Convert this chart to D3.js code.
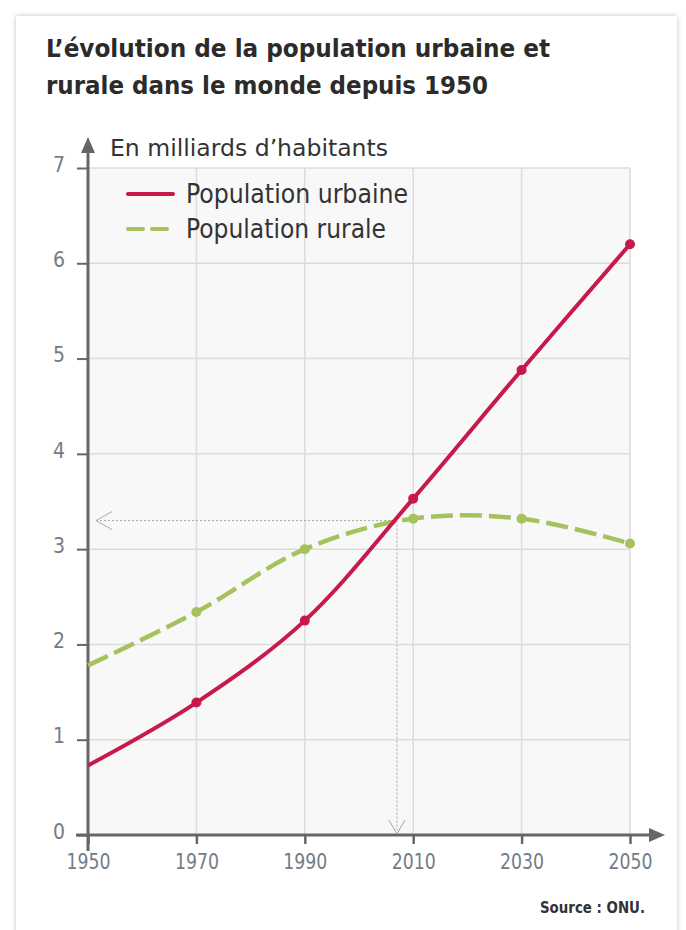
<!DOCTYPE html>
<html><head><meta charset="utf-8">
<script src="https://cdn.jsdelivr.net/npm/d3@7"></script>
<style>
html,body{margin:0;padding:0;background:#fff;}
svg{display:block;}
</style></head>
<body>
<svg id="c" width="686" height="930"></svg>
<script>
const years = [1950, 1970, 1990, 2010, 2030, 2050];
const urbaine = [0.73, 1.39, 2.25, 3.53, 4.88, 6.2];
const rurale = [1.78, 2.34, 3.0, 3.32, 3.32, 3.06];
const yTicks = [0, 1, 2, 3, 4, 5, 6, 7];
const xTicks = [1950, 1970, 1990, 2010, 2030, 2050];
const guide = {year: 2007, value: 3.3};

const svg = d3.select("#c");
const FONT = "'DejaVu Sans Condensed','DejaVu Sans',sans-serif";

// card
const defs = svg.append("defs");
const f = defs.append("filter").attr("id","sh").attr("x","-5%").attr("y","-5%").attr("width","110%").attr("height","110%");
f.append("feGaussianBlur").attr("in","SourceAlpha").attr("stdDeviation",2.5);
f.append("feComponentTransfer").append("feFuncA").attr("type","linear").attr("slope",0.25);
const m = f.append("feMerge"); m.append("feMergeNode"); m.append("feMergeNode").attr("in","SourceGraphic");
svg.append("rect").attr("x",16).attr("y",16).attr("width",661).attr("height",920).attr("fill","#fff").attr("filter","url(#sh)");

// title
svg.append("text").attr("x",46).attr("y",57).attr("font-family",FONT).attr("font-weight","bold")
  .attr("font-size",25).attr("fill","#2b2b2b").attr("textLength",504).attr("lengthAdjust","spacingAndGlyphs")
  .text("L’évolution de la population urbaine et");
svg.append("text").attr("x",46).attr("y",94).attr("font-family",FONT).attr("font-weight","bold")
  .attr("font-size",25).attr("fill","#2b2b2b").attr("textLength",442).attr("lengthAdjust","spacingAndGlyphs")
  .text("rurale dans le monde depuis 1950");

const x = d3.scaleLinear().domain([1950, 2050]).range([88, 630]);
const y = d3.scaleLinear().domain([0, 7]).range([835, 168]);

// plot bg
svg.append("rect").attr("x",x(1950)).attr("y",y(7)).attr("width",x(2050)-x(1950)).attr("height",y(0)-y(7)).attr("fill","#f8f8f8");

// grid
svg.append("g").selectAll("line").data(yTicks.slice(1)).join("line")
  .attr("x1",x(1950)).attr("x2",x(2050)).attr("y1",d=>y(d)).attr("y2",d=>y(d))
  .attr("stroke","#dcdcdc").attr("stroke-width",1.5);
svg.append("g").selectAll("line").data(xTicks.slice(1)).join("line")
  .attr("x1",d=>x(d)).attr("x2",d=>x(d)).attr("y1",y(7)).attr("y2",y(0))
  .attr("stroke","#dcdcdc").attr("stroke-width",1.5);

// axes with d3
const axisColor = "#666";
const gx = svg.append("g").attr("transform",`translate(0,${y(0)})`)
  .call(d3.axisBottom(x).tickValues(xTicks).tickFormat(d3.format("d")).tickSize(9).tickPadding(10));
gx.select(".domain").remove();
gx.selectAll("line").attr("stroke",axisColor).attr("stroke-width",2.5);
gx.selectAll("text").attr("font-family",FONT).attr("font-size",21).attr("fill","#727c88")
  .attr("textLength",44).attr("lengthAdjust","spacingAndGlyphs");

const gy = svg.append("g").attr("transform",`translate(${x(1950)},0)`)
  .call(d3.axisLeft(y).tickValues(yTicks).tickFormat(d3.format("d")).tickSize(11).tickPadding(12));
gy.select(".domain").remove();
gy.selectAll("line").attr("stroke",axisColor).attr("stroke-width",2);
gy.selectAll("text").attr("font-family",FONT).attr("font-size",21).attr("fill","#727c88").attr("dy","0.15em");

// axis lines and arrows
svg.append("line").attr("x1",x(1950)).attr("x2",x(1950)).attr("y1",y(0)+16).attr("y2",150)
  .attr("stroke",axisColor).attr("stroke-width",3);
svg.append("path").attr("d",`M${x(1950)},137 L${x(1950)-7},153 L${x(1950)+7},153 Z`).attr("fill",axisColor);
svg.append("line").attr("x1",x(1950)-12).attr("x2",652).attr("y1",y(0)).attr("y2",y(0))
  .attr("stroke",axisColor).attr("stroke-width",3);
svg.append("path").attr("d",`M665,${y(0)} L649,${y(0)-7} L649,${y(0)+7} Z`).attr("fill",axisColor);

// axis title
svg.append("text").attr("x",110).attr("y",156).attr("font-family",FONT).attr("font-size",23)
  .attr("fill","#333").attr("textLength",278).attr("lengthAdjust","spacingAndGlyphs").text("En milliards d’habitants");

// guides
const gcol="#a8a8a8";
svg.append("line").attr("x1",x(1950)+8).attr("x2",x(guide.year)).attr("y1",y(guide.value)).attr("y2",y(guide.value))
  .attr("stroke",gcol).attr("stroke-width",1).attr("stroke-dasharray","2,2");
svg.append("line").attr("x1",x(guide.year)).attr("x2",x(guide.year)).attr("y1",y(guide.value)).attr("y2",y(0)-2)
  .attr("stroke",gcol).attr("stroke-width",1).attr("stroke-dasharray","2,2");
svg.append("path").attr("d",`M${x(1950)+24},${y(guide.value)-9} L${x(1950)+8},${y(guide.value)} L${x(1950)+24},${y(guide.value)+9}`)
  .attr("fill","none").attr("stroke",gcol).attr("stroke-width",1);
svg.append("path").attr("d",`M${x(guide.year)-8},${y(0)-15} L${x(guide.year)},${y(0)-1} L${x(guide.year)+8},${y(0)-15}`)
  .attr("fill","none").attr("stroke",gcol).attr("stroke-width",1);

const red="#c8194b", green="#a5c25c";
const line = d3.line().x((d,i)=>x(years[i])).y(d=>y(d)).curve(d3.curveCatmullRom.alpha(0.5));

svg.append("path").attr("d",line(rurale)).attr("fill","none").attr("stroke",green).attr("stroke-width",4.5)
  .attr("stroke-dasharray","22,7");
svg.append("g").selectAll("circle").data(rurale.slice(1)).join("circle")
  .attr("cx",(d,i)=>x(years[i+1])).attr("cy",d=>y(d)).attr("r",5).attr("fill",green);

svg.append("path").attr("d",line(urbaine)).attr("fill","none").attr("stroke",red).attr("stroke-width",4);
svg.append("g").selectAll("circle").data(urbaine.slice(1)).join("circle")
  .attr("cx",(d,i)=>x(years[i+1])).attr("cy",d=>y(d)).attr("r",5).attr("fill",red);

// legend
svg.append("line").attr("x1",128).attr("x2",173).attr("y1",194).attr("y2",194).attr("stroke",red).attr("stroke-width",4).attr("stroke-linecap","round");
svg.append("line").attr("x1",128).attr("x2",173).attr("y1",229).attr("y2",229).attr("stroke",green).attr("stroke-width",4).attr("stroke-linecap","round").attr("stroke-dasharray","15,9");
svg.append("text").attr("x",186).attr("y",203).attr("font-family",FONT).attr("font-size",26).attr("fill","#333")
  .attr("textLength",222).attr("lengthAdjust","spacingAndGlyphs").text("Population urbaine");
svg.append("text").attr("x",186).attr("y",238).attr("font-family",FONT).attr("font-size",26).attr("fill","#333")
  .attr("textLength",200).attr("lengthAdjust","spacingAndGlyphs").text("Population rurale");

// source
svg.append("text").attr("x",645).attr("y",913).attr("text-anchor","end").attr("font-family",FONT).attr("font-weight","bold")
  .attr("font-size",15).attr("fill","#333").attr("textLength",105).attr("lengthAdjust","spacingAndGlyphs").text("Source : ONU.");
</script>
</body></html>
